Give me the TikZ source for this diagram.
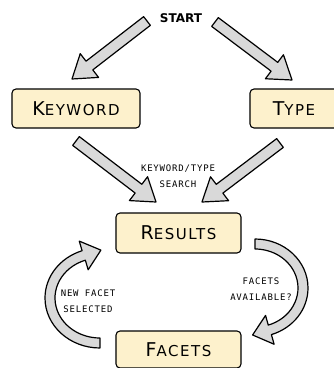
\documentclass[tikz,border=0pt]{standalone}
\usepackage{fontspec}
\usetikzlibrary{calc}
\newfontfamily\boxfont[LetterSpace=10]{DejaVu Sans}
\newfontfamily\labfont[LetterSpace=9]{DejaVu Sans Mono}
\newfontfamily\startfont{DejaVu Sans}
\definecolor{boxfill}{HTML}{FDF1CC}
\definecolor{arrfill}{HTML}{D9D9D9}
\tikzset{
  box/.style={draw=black, line width=1.1pt, rounded corners=4pt, fill=boxfill, inner sep=0pt, font=\boxfont},
  fat/.style={draw=black, line width=1.2pt, fill=arrfill, line join=round},
  lab/.style={font=\labfont\fontsize{9}{16}\selectfont, align=center, inner sep=0pt},
}
\newcommand\scap[2]{{\fontsize{19}{19}\selectfont #1}{\fontsize{15}{15}\selectfont #2}}
\newcommand\fatarrow[2]{%
  \coordinate (hb) at ($(#2)!22pt!(#1)$);
  \draw[fat] ($(#1)!5.5pt!90:(#2)$) -- ($(hb)!5.5pt!90:(#2)$) -- ($(hb)!15pt!90:(#2)$)
    -- (#2) -- ($(hb)!15pt!-90:(#2)$) -- ($(hb)!5.5pt!-90:(#2)$) -- ($(#1)!5.5pt!-90:(#2)$) -- cycle;
}
\newcommand\curvarrow[5]{%
  \pgfmathsetmacro\cAct{cos(#5)}%
  \pgfmathsetmacro\cAst{sin(#5)}%
  \pgfmathsetmacro\cAnxr{#3*\cAct}%
  \pgfmathsetmacro\cAnyr{#2*\cAst}%
  \pgfmathsetmacro\cAnl{veclen(\cAnxr,\cAnyr)}%
  \pgfmathsetmacro\cAnx{\cAnxr/\cAnl}%
  \pgfmathsetmacro\cAny{\cAnyr/\cAnl}%
  \pgfmathsetmacro\cApx{#2*\cAct}%
  \pgfmathsetmacro\cApy{#3*\cAst}%
  \draw[fat] ($(#1)+({(#2+5)*cos(#4)},{(#3+5)*sin(#4)})$)
    arc[start angle=#4, end angle=#5, x radius={(#2+5)*1pt}, y radius={(#3+5)*1pt}]
    -- ($(#1)+({\cApx+15*(\cAnx)},{\cApy+15*(\cAny)})$)
    -- ($(#1)+({\cApx+18*(\cAny)},{\cApy-18*(\cAnx)})$)
    -- ($(#1)+({\cApx-15*(\cAnx)},{\cApy-15*(\cAny)})$)
    -- ($(#1)+({(#2-5)*\cAct},{(#3-5)*\cAst})$)
    arc[start angle=#5, end angle=#4, x radius={(#2-5)*1pt}, y radius={(#3-5)*1pt}]
    -- cycle;
}
\begin{document}
\begin{tikzpicture}[x=1pt,y=1pt]
\useasboundingbox (0,0) rectangle (334,368);
% nodes
\node[font=\startfont\bfseries\fontsize{12}{12}\selectfont, inner sep=0pt] (start) at (181,350) {START};
\node[box, minimum width=128pt, minimum height=39pt] (kw) at (76,259.5) {\scap{K}{EYWORD}};
\node[box, minimum width=88pt, minimum height=39pt] (ty) at (294,259.5) {\scap{T}{YPE}};
\node[box, minimum width=125pt, minimum height=40pt] (res) at (178.5,135) {\scap{R}{ESULTS}};
\node[box, minimum width=125pt, minimum height=37pt] (fac) at (178.5,18.5) {\scap{F}{ACETS}};
% labels
\node[lab] (l1) at (178,192) {KEYWORD/TYPE\\SEARCH};
\node[lab] (l2) at (261,79) {FACETS\\AVAILABLE?};
\node[lab] (l3) at (88,67) {NEW FACET\\SELECTED};
% arrow end points
\coordinate (a1) at (147,347); \coordinate (b1) at (72,289);
\coordinate (a2) at (215,346); \coordinate (b2) at (292,288);
\coordinate (a3) at (76,227);  \coordinate (b3) at (156,166);
\coordinate (a4) at (280,225); \coordinate (b4) at (202,166);
\fatarrow{a1}{b1}
\fatarrow{a2}{b2}
\fatarrow{a3}{b3}
\fatarrow{a4}{b4}
% curved arrows
\coordinate (cr) at (255,80);
\coordinate (cl) at (100,70);
\curvarrow{cr}{48}{44}{90}{-72}
\curvarrow{cl}{50}{45}{270}{109}
\end{tikzpicture}
\end{document}
